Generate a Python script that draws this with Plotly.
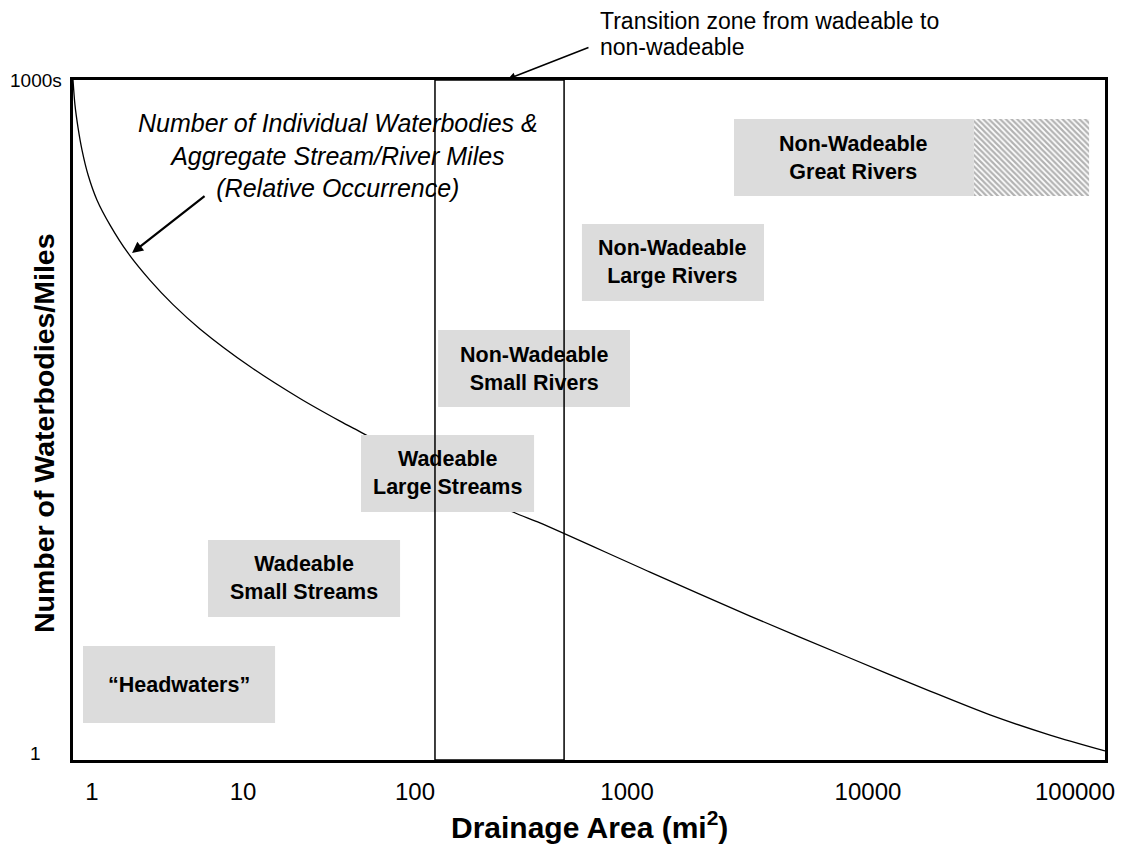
import plotly.graph_objects as go

# ---------------- data (schematic axis units: x ~ log10 drainage position, y ~ log10 relative occurrence) ----
x_tick_labels = ["1", "10", "100", "1000", "10000", "100000"]
x_tick_pos = [0.0, 0.770, 1.646, 2.727, 3.955, 5.010]
y_tick_labels = ["1", "1000s"]
y_tick_pos = [0.0, 3.0]

curve_x = [-0.097, -0.087, -0.071, -0.051, -0.020, 0.025, 0.092, 0.183, 0.296, 0.413,
           0.550, 0.805, 1.060, 1.264, 1.381, 1.774, 2.146, 2.283, 2.844, 3.354,
           3.863, 4.271, 4.577, 4.883, 5.163]
curve_y = [3.000, 2.890, 2.788, 2.691, 2.581, 2.471, 2.360, 2.237, 2.116, 2.009,
           1.902, 1.736, 1.595, 1.495, 1.441, 1.257, 1.094, 1.046, 0.829, 0.635,
           0.450, 0.304, 0.199, 0.110, 0.040]

class_labels = ["\u201cHeadwaters\u201d", "Wadeable<br>Small Streams", "Wadeable<br>Large Streams",
                "Non-Wadeable<br>Small Rivers", "Non-Wadeable<br>Large Rivers",
                "Non-Wadeable<br>Great Rivers"]
class_x0 = [-0.046, 0.591, 1.371, 1.764, 2.497, 3.272]
class_x1 = [0.933, 1.570, 2.253, 2.742, 3.425, 4.495]
class_y0 = [0.163, 0.631, 1.094, 1.557, 2.025, 2.488]
class_y1 = [0.503, 0.971, 1.434, 1.897, 2.365, 2.828]
great_rivers_hatch = [4.495, 5.082]
transition_zone = [1.748, 2.406]

# ---------------- figure ----------------
X_RANGE = [-0.097, 5.163]
Y_RANGE = [0.0, 3.0]
FONT = "Liberation Sans, Arial, sans-serif"

fig = go.Figure()

fig.add_trace(go.Scatter(
    x=curve_x, y=curve_y, mode="lines",
    line=dict(color="black", width=1.3, shape="spline", smoothing=0.8),
    hoverinfo="skip", showlegend=False))

# hatched extension of great rivers box
hx0, hx1 = great_rivers_hatch
gy0, gy1 = class_y0[-1], class_y1[-1]
fig.add_trace(go.Scatter(
    x=[hx0, hx1, hx1, hx0, hx0], y=[gy0, gy0, gy1, gy1, gy0],
    mode="lines", fill="toself", line=dict(width=0),
    fillpattern=dict(shape="\\", size=4, solidity=0.55, fgcolor="#666666", bgcolor="white"),
    hoverinfo="skip", showlegend=False))

shapes = []
annotations = []
for lab, x0, x1, y0, y1 in zip(class_labels, class_x0, class_x1, class_y0, class_y1):
    shapes.append(dict(type="rect", xref="x", yref="y", x0=x0, x1=x1, y0=y0, y1=y1,
                       fillcolor="#dcdcdc", line=dict(width=0), layer="above"))
    annotations.append(dict(x=(x0 + x1) / 2, y=(y0 + y1) / 2, xref="x", yref="y",
                            text="<b>" + lab + "</b>", showarrow=False,
                            font=dict(family=FONT, size=21.5, color="black"),
                            xanchor="center", yanchor="middle", align="center"))

# transition zone rectangle
shapes.append(dict(type="rect", xref="x", yref="y", x0=transition_zone[0], x1=transition_zone[1],
                   y0=Y_RANGE[0], y1=Y_RANGE[1], fillcolor="rgba(0,0,0,0)",
                   line=dict(color="black", width=1.5), layer="above"))

# y tick labels as annotations
for lab, pos in zip(y_tick_labels, y_tick_pos):
    annotations.append(dict(x=-0.036, xref="paper", y=pos / Y_RANGE[1], yref="paper", text=lab,
                            showarrow=False, font=dict(family=FONT, size=19, color="black"),
                            xanchor="center", yanchor="middle",
                            yshift=7 if pos == 0 else 0))

# italic curve label
annotations.append(dict(x=1.254, y=2.669, xref="x", yref="y",
                        text="<i>Number of Individual Waterbodies &amp;<br>Aggregate Stream/River Miles<br>(Relative Occurrence)</i>",
                        showarrow=False, font=dict(family=FONT, size=25, color="black"),
                        xanchor="center", yanchor="middle", align="center"))
# arrow to curve
annotations.append(dict(x=0.204, y=2.237, xref="x", yref="y", text="", showarrow=True,
                        ax=74, ay=-58, arrowhead=2, arrowsize=1, arrowwidth=2.2,
                        arrowcolor="black", standoff=0))
# transition zone text and arrow (paper coords: above the plot area)
annotations.append(dict(x=2.579, y=1.087, xref="x", yref="paper", text="Transition zone from wadeable to",
                        showarrow=False, font=dict(family=FONT, size=23, color="black"),
                        xanchor="left", yanchor="middle"))
annotations.append(dict(x=2.579, y=1.049, xref="x", yref="paper", text="non-wadeable",
                        showarrow=False, font=dict(family=FONT, size=23, color="black"),
                        xanchor="left", yanchor="middle"))
annotations.append(dict(x=2.120, y=1.0015, xref="x", yref="paper", text="", showarrow=True,
                        ax=82, ay=-32, arrowhead=2, arrowsize=1, arrowwidth=1.5,
                        arrowcolor="black", standoff=0))
# axis titles
annotations.append(dict(x=0.5, y=-0.0956, xref="paper", yref="paper",
                        text="<b>Drainage Area (mi<sup>2</sup>)</b>", showarrow=False,
                        font=dict(family=FONT, size=30, color="black"),
                        xanchor="center", yanchor="middle"))
annotations.append(dict(x=-0.028, y=0.481, xref="paper", yref="paper",
                        text="<b>Number of Waterbodies/Miles</b>", showarrow=False, textangle=-90,
                        font=dict(family=FONT, size=28.5, color="black"),
                        xanchor="center", yanchor="middle"))

fig.update_layout(
    width=1120, height=838, autosize=False,
    margin=dict(l=65, r=23, t=72, b=86),
    paper_bgcolor="white", plot_bgcolor="white",
    shapes=shapes, annotations=annotations, showlegend=False,
    xaxis=dict(range=X_RANGE, tickvals=x_tick_pos, ticktext=x_tick_labels,
               showgrid=False, zeroline=False, showline=True, mirror=True,
               linecolor="black", linewidth=2.5, ticks="", ticklabelstandoff=8,
               tickfont=dict(family=FONT, size=24, color="black")),
    yaxis=dict(range=Y_RANGE, showticklabels=False, showgrid=False, zeroline=False,
               showline=True, mirror=True, linecolor="black", linewidth=2.5, ticks=""),
)

fig.write_html("out.html")
